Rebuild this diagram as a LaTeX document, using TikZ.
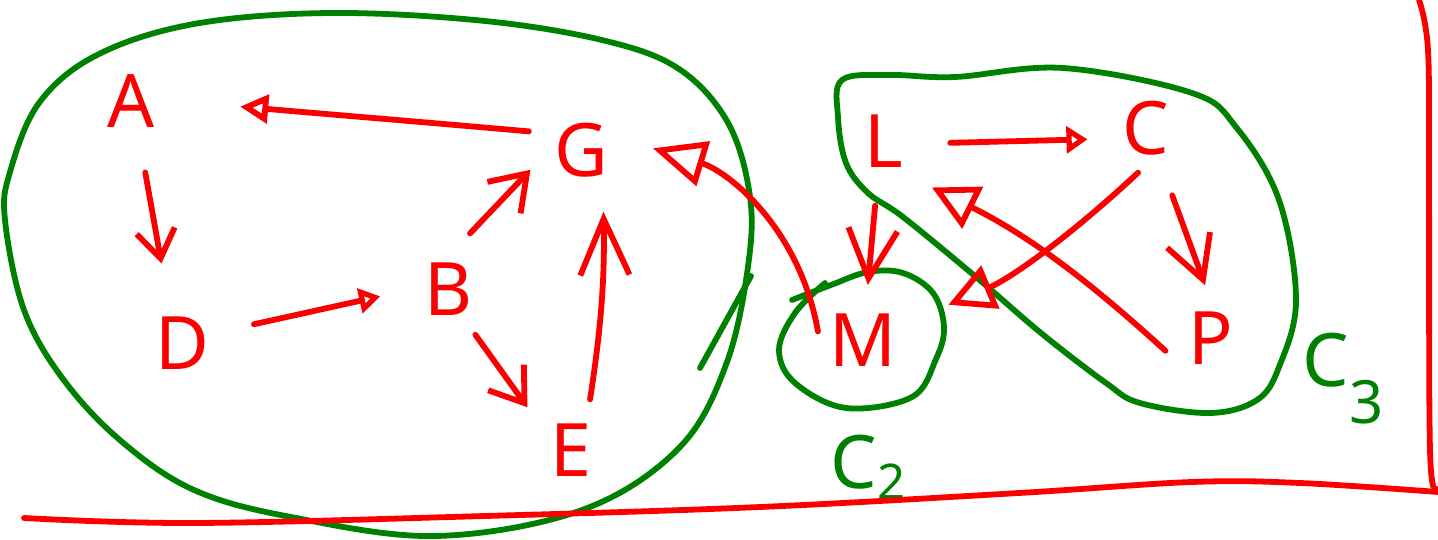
\documentclass[tikz,border=0pt]{standalone}
\usepackage{fontspec}
\setmainfont{Noto Sans}
\usetikzlibrary{arrows.meta}
\definecolor{pen}{RGB}{250,0,0}
\definecolor{grn}{RGB}{0,128,0}
\begin{document}
\begin{tikzpicture}[x=0.02cm,y=0.02cm,
  letter/.style={circle,minimum size=1.8cm,inner sep=0pt,text=pen,font=\fontsize{42}{42}\selectfont},
  grp/.style={text=grn,font=\fontsize{42}{42}\selectfont,inner sep=0pt},
  edge/.style={draw=pen,line width=3.3pt,line cap=round,line join=round},
  hull/.style={draw=grn,line width=3.3pt,line cap=round,line join=round},
  frame/.style={draw=pen,line width=3.3pt,line cap=round}]
\useasboundingbox (0,0) rectangle (1438,539);

% letters
\node[letter] (A) at (131,438) {A};
\node[letter] (D) at (182,196) {D};
\node[letter] (B) at (448,250) {B};
\node[letter] (G) at (581,389) {G};
\node[letter] (E) at (571,89) {E};
\node[letter] (L) at (884,398) {L};
\node[letter] (C) at (1146,411) {C};
\node[letter] (M) at (863,199) {M};
\node[letter] (P) at (1211,201) {P};

% group labels
\node[grp] (c2) at (868,72) {C\raisebox{-0.15em}{\fontsize{28}{28}\selectfont 2}};
\node[grp] (c3) at (1343,160) {C\raisebox{-0.5em}{\fontsize{34}{34}\selectfont 3}};

% green groups
\draw[hull] plot[smooth cycle,tension=0.6] coordinates {
  (5,319) (24,229) (63,160) (121,98) (194,49) (291,22) (436,3) (582,29)
  (679,91) (727,177) (749,280) (749,349) (727,418) (679,470) (606,498)
  (485,518) (330,526) (194,515) (97,484) (39,436) (10,367)};
\draw[hull] (700,171) -- (751,263);
\draw[hull] plot[smooth,tension=0.6] coordinates {
  (792,239) (831,254) (868,267) (903,266) (933,246) (944,212) (936,180)
  (912,142) (846,131) (795,156) (779,189) (795,226) (825,256)};
\draw[hull] plot[smooth cycle,tension=0.6] coordinates {
  (842,459) (890,464) (955,462) (1063,471) (1192,446) (1236,412) (1279,339)
  (1296,239) (1279,172) (1257,139) (1210,126) (1140,136) (1106,156)
  (1041,206) (976,262) (903,322) (868,346) (846,376) (838,422)};

% red frame
\draw[frame] plot[smooth,tension=0.6] coordinates {
  (24,21) (194,16) (485,23) (760,32) (1019,46) (1192,57) (1300,56) (1438,47)};
\draw[frame] plot[smooth,tension=0.6] coordinates {
  (1419,539) (1428,489) (1429,356) (1430,89) (1437,50)};

% arrows
\draw[edge,-{Triangle[open,length=16pt,width=16pt]},shorten <=0.21cm,shorten >=1.28cm]
  (G.157) to[out=175,in=-5] (A.0);
\draw[edge,-{Straight Barb[length=16pt,width=22pt]},shorten <=0.55cm,shorten >=0.74cm]
  (A.-78) -- (D.108);
\draw[edge,-{Triangle[open,length=12pt,width=14pt]},shorten <=0.58cm,shorten >=0.46cm]
  (D.16) -- (B.183);
\draw[edge,-{Straight Barb[length=19pt,width=26pt]},shorten <=0.32cm,shorten >=0.2cm]
  (B.76) -- (G.196);
\draw[edge,-{Straight Barb[length=18pt,width=25pt]},shorten <=0.16cm,shorten >=0.32cm]
  (B.-60) -- (E.139);
\draw[edge,-{Straight Barb[length=32pt,width=28pt]},shorten <=0.18cm,shorten >=0.44cm]
  (E.67) to[bend right=5] (G.-61);
\draw[edge,-{Triangle[open,length=30pt,width=26pt]},shorten <=0.03cm,shorten >=0.58cm]
  (M.171) to[out=100,in=-17] (G.13);
\draw[edge,-{Triangle[open,length=12pt,width=15pt]},shorten <=0.42cm,shorten >=0.29cm]
  (L.-3) -- (C.194);
\draw[edge,-{Straight Barb[length=28pt,width=28pt]},shorten <=0.40cm,shorten >=0.2cm]
  (L.-99) -- (M.85);
\draw[edge,-{Triangle[open,length=26pt,width=26pt]},shorten >=0.94cm]
  (C.-100) to[bend left=10] (M.22);
\draw[edge,-{Triangle[open,length=26pt,width=26pt]},shorten <=0.08cm,shorten >=0.46cm]
  (P.200) to[bend right=8] (L.-53);
\draw[edge,-{Straight Barb[length=24pt,width=26pt]},shorten <=0.54cm,shorten >=0.16cm]
  (C.-68) -- (P.94);
\end{tikzpicture}
\end{document}
